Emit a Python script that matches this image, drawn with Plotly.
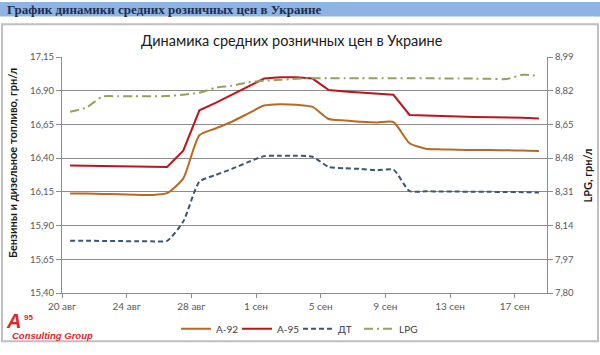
import pandas as pd
import plotly.graph_objects as go

# ---- data ----
dates = pd.date_range("2014-08-20", periods=30, freq="D")
a92 = [16.138, 16.138, 16.135, 16.132, 16.128, 16.127, 16.14, 16.25, 16.57, 16.62,
       16.67, 16.73, 16.79, 16.80, 16.795, 16.78, 16.69, 16.68, 16.67, 16.665,
       16.668, 16.51, 16.47, 16.465, 16.462, 16.46, 16.46, 16.458, 16.457, 16.453]
a95 = [16.345, 16.343, 16.341, 16.34, 16.338, 16.336, 16.335, 16.455, 16.755, 16.81,
       16.87, 16.93, 16.99, 17.0, 17.0, 16.99, 16.905, 16.895, 16.885, 16.875,
       16.87, 16.72, 16.715, 16.71, 16.708, 16.706, 16.705, 16.704, 16.70, 16.694]
dt = [15.787, 15.787, 15.786, 15.785, 15.784, 15.783, 15.787, 15.93, 16.225, 16.275,
      16.32, 16.37, 16.415, 16.418, 16.418, 16.41, 16.335, 16.325, 16.32, 16.31,
      16.315, 16.155, 16.154, 16.153, 16.152, 16.151, 16.15, 16.149, 16.148, 16.145]
lpg = [8.714, 8.735, 8.79, 8.792, 8.792, 8.792, 8.793, 8.80, 8.81, 8.835,
       8.845, 8.862, 8.87, 8.875, 8.88, 8.883, 8.883, 8.883, 8.883, 8.883,
       8.883, 8.883, 8.883, 8.882, 8.882, 8.881, 8.88, 8.879, 8.90, 8.895]

tick_dates = ["2014-08-20", "2014-08-24", "2014-08-28", "2014-09-01",
              "2014-09-05", "2014-09-09", "2014-09-13", "2014-09-17"]
tick_text = ["20 авг", "24 авг", "28 авг", "1 сен", "5 сен", "9 сен", "13 сен", "17 сен"]
left_ticks = [15.40, 15.65, 15.90, 16.15, 16.40, 16.65, 16.90, 17.15]
right_ticks = [7.80, 7.97, 8.14, 8.31, 8.48, 8.65, 8.82, 8.99]

# ---- layout geometry ----
W, H = 600, 355
L, R, T, B = 62, 53, 57, 53
PW, PH = W - L - R, H - T - B


def px(x):
    return (x - L) / PW


def py(y):
    return (H - B - y) / PH


half = pd.Timedelta(hours=12)
tickvals = [pd.Timestamp(d) - half for d in tick_dates]

FONT = "Lato"
GRID = "#8C8C8C"
TXT = "#595959"

fig = go.Figure()
fig.add_trace(go.Scatter(x=dates, y=a92, name="A-92", mode="lines",
                         line=dict(color="#B86A22", width=2, shape="spline", smoothing=0.6)))
fig.add_trace(go.Scatter(x=dates, y=a95, name="A-95", mode="lines",
                         line=dict(color="#C0141C", width=2)))
fig.add_trace(go.Scatter(x=dates, y=dt, name="ДТ", mode="lines",
                         line=dict(color="#3D5676", width=2, dash="5px,3px",
                                   shape="spline", smoothing=0.6)))
fig.add_trace(go.Scatter(x=dates, y=lpg, name="LPG", mode="lines", yaxis="y2",
                         line=dict(color="#93A35B", width=2, dash="9px,4px,2px,4px",
                                   shape="spline", smoothing=0.6)))

fig.update_layout(
    width=W, height=H,
    margin=dict(l=L, r=R, t=T, b=B),
    paper_bgcolor="white", plot_bgcolor="white",
    separators=", ",
    font=dict(family=FONT, size=10, color=TXT),
    xaxis=dict(type="date", range=[dates[0] - half, dates[-1] + half],
               tickvals=tickvals, ticktext=tick_text, ticks="outside", ticklen=4,
               tickcolor=GRID, showline=True, linecolor=GRID, linewidth=1,
               showgrid=False, zeroline=False, tickfont=dict(size=10, color=TXT)),
    yaxis=dict(range=[15.40, 17.15], tickvals=left_ticks, tickformat=".2f",
               ticks="outside", ticklen=5, tickcolor=GRID, showline=True,
               linecolor=GRID, gridcolor=GRID, gridwidth=1, zeroline=False,
               tickfont=dict(size=9.5, color=TXT)),
    yaxis2=dict(range=[7.80, 8.99], tickvals=right_ticks, tickformat=".2f",
                overlaying="y", side="right", ticks="outside", ticklen=5,
                tickcolor=GRID, showline=True, linecolor=GRID, showgrid=False,
                zeroline=False, tickfont=dict(size=9.5, color=TXT)),
    showlegend=True,
    legend=dict(orientation="h", x=px(298), xanchor="center", y=py(339), yanchor="middle",
                font=dict(size=10, color="#404040"), bgcolor="rgba(0,0,0,0)",
                itemwidth=30, tracegroupgap=0, entrywidth=16, entrywidthmode="pixels"),
)

shapes = [
    # header band
    dict(type="rect", xref="paper", yref="paper", x0=px(0), x1=px(600), y0=py(0), y1=py(15),
         fillcolor="#8DB4E2", line=dict(width=0), layer="below"),
    # chart frame
    dict(type="rect", xref="paper", yref="paper", x0=px(2), x1=px(598), y0=py(23), y1=py(352),
         fillcolor="rgba(0,0,0,0)", line=dict(color="#BFBFBF", width=2), layer="below"),
]
fig.update_layout(shapes=shapes)

ann = [
    dict(text="<b>График динамики средних розничных цен в Украине</b>", x=px(5), y=py(7.5),
         xanchor="left", yanchor="middle",
         font=dict(family="Liberation Serif", size=13, color="#1F2D4F")),
    dict(text="Динамика средних розничных цен в Украине", x=px(292), y=py(40),
         xanchor="center", yanchor="middle",
         font=dict(family=FONT, size=14.5, color="#1A1A1A")),
    dict(text="<b>Бензины и дизельное топливо, грн/л</b>", x=px(13), y=py(167),
         xanchor="center", yanchor="middle", textangle=-90,
         font=dict(family=FONT, size=11, color="#1A1A1A")),
    dict(text="<b>LPG, грн/л</b>", x=px(587), y=py(180),
         xanchor="center", yanchor="middle", textangle=-90,
         font=dict(family=FONT, size=11, color="#1A1A1A")),
    # logo
    dict(text="<b><i>A</i></b>", x=px(13), y=py(331), xanchor="center", yanchor="middle",
         font=dict(family="Liberation Sans", size=20, color="#E0262B")),
    dict(text="<b>95</b>", x=px(28), y=py(327), xanchor="center", yanchor="middle",
         font=dict(family="Liberation Sans", size=8, color="#E0262B")),
    dict(text="<b><i>Consulting Group</i></b>", x=px(52), y=py(346), xanchor="center",
         yanchor="middle", font=dict(family="Liberation Sans", size=9.5, color="#E0262B")),
]
for a in ann:
    a.update(xref="paper", yref="paper", showarrow=False)
fig.update_layout(annotations=ann)

fig.write_html("out.html", config={"displayModeBar": False},
               post_script="document.body.style.margin='0px';")
